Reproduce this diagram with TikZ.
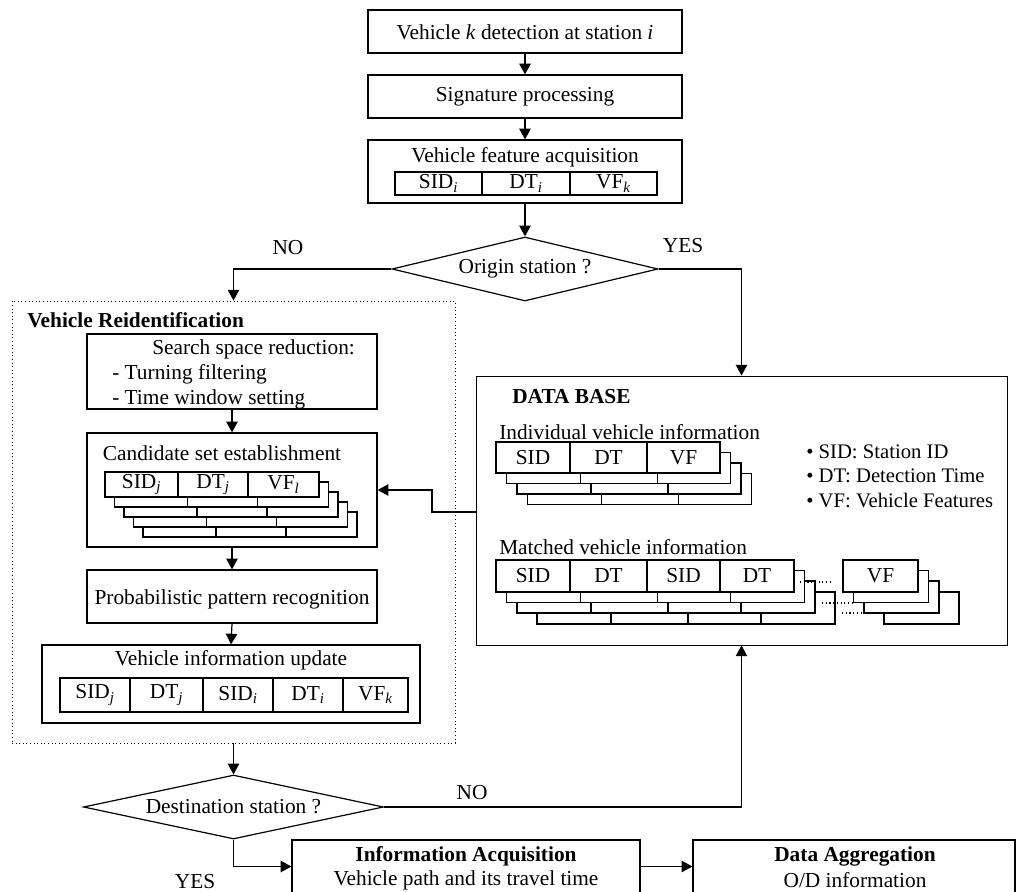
\documentclass[tikz,border=0pt]{standalone}
\usepackage{fontspec}
\setmainfont{Liberation Serif}
\usetikzlibrary{arrows.meta,shapes.geometric,fit}
\newcommand{\cellat}[6]{%
  \node[cell, minimum width={((#4)-(#2))*0.75pt}, minimum height={((#5)-(#3))*0.75pt}] (#1) at ({((#2)+(#4))/2},{((#3)+(#5))/2}) {#6};}
\newcommand{\sbi}[1]{\textsubscript{\itshape #1}}
\begin{document}
\begin{tikzpicture}[x=0.75pt,y=-0.75pt,
  box/.style={draw,line width=0.9pt,inner sep=0pt},
  cell/.style={draw,fill=white,line width=0.8pt,inner sep=0pt,font=\fontsize{16}{19}\selectfont},
  txt/.style={inner sep=0pt,font=\fontsize{16}{19}\selectfont},
  btxt/.style={inner sep=0pt,font=\fontsize{16}{19}\selectfont\bfseries},
  arr/.style={line width=0.9pt,-{Triangle[length=8pt,width=8.5pt]}},
  dia/.style={draw,diamond,aspect=4.5,line width=0.9pt,inner sep=0pt,font=\fontsize{16}{19}\selectfont},
  ln/.style={line width=0.9pt}
]
\clip (0,0) rectangle (1017,892);
\useasboundingbox (0,0) rectangle (1017,892);
\fill[white] (0,0) rectangle (1017,892);

% ---- top chain
\node[box,fit={(368,10) (682,53)}] (b1) {};
\node[txt] (t1) at (525,32) {Vehicle \textit{k} detection at station \textit{i}};
\node[box,fit={(368,75) (682,118)}] (b2) {};
\node[txt] (t2) at (525,97) {Signature processing};
\node[box,fit={(368,140) (682,203)}] (b3) {};
\node[txt] (t3) at (525,157) {Vehicle feature acquisition};
\cellat{f1}{395}{172}{482}{195}{SID\sbi{i}}
\cellat{f2}{482}{172}{570}{195}{DT\sbi{i}}
\cellat{f3}{570}{172}{657}{195}{VF\sbi{k}}
\node[dia,minimum width=199.5pt,minimum height=48pt] (d1) at (525,269) {Origin station ?};

\draw[arr] (b1.south) -- (b2.north);
\draw[arr] (b2.south) -- (b3.north);
\draw[arr] (b3.south) -- (d1.north);

% ---- vehicle reidentification
\node[draw,dotted,line width=0.7pt,inner sep=0pt,fit={(12,301) (455,743)}] (vr) {};
\node[btxt,anchor=west] (vrt) at (27,320) {Vehicle Reidentification};

\node[box,fit={(87,334) (377,409)}] (sr) {};
\node[txt,anchor=west] (sr1) at (152,349) {Search space reduction:};
\node[txt,anchor=west] (sr2) at (112,374) {- Turning filtering};
\node[txt,anchor=west] (sr3) at (112,399) {- Time window setting};

\node[box,fit={(87,433) (377,547)}] (cand) {};
\node[txt] (candt) at (222,453) {Candidate set establishment};
\foreach \k in {4,3,2,1} {
  \cellat{c\k a}{105+\k*9.5}{472+\k*10}{178+\k*9.5}{497+\k*10}{}
  \cellat{c\k b}{178+\k*9.5}{472+\k*10}{248+\k*9.5}{497+\k*10}{}
  \cellat{c\k c}{248+\k*9.5}{472+\k*10}{319+\k*9.5}{497+\k*10}{}
}
\cellat{c0a}{105}{472}{178}{497}{SID\sbi{j}}
\cellat{c0b}{178}{472}{248}{497}{DT\sbi{j}}
\cellat{c0c}{248}{472}{319}{497}{VF\sbi{l}}

\node[box,fit={(87,570) (377,623)}] (pr) {};
\node[txt] (prt) at (232,599) {Probabilistic pattern recognition};

\node[box,fit={(42,645) (420,723)}] (up) {};
\node[txt] (upt) at (231,660) {Vehicle information update};
\cellat{u1}{60}{678}{130}{712}{SID\sbi{j}}
\cellat{u2}{130}{678}{203}{712}{DT\sbi{j}}
\cellat{u3}{203}{678}{273}{712}{SID\sbi{i}}
\cellat{u4}{273}{678}{343}{712}{DT\sbi{i}}
\cellat{u5}{343}{678}{408}{712}{VF\sbi{k}}

\draw[arr] (sr.south) -- (cand.north);
\draw[arr] (cand.south) -- (pr.north);
\draw[arr] (pr.south) -- (up.north);

% ---- database
\node[draw,line width=0.6pt,inner sep=0pt,fit={(476,376) (1007,645)}] (db) {};
\node[btxt,anchor=west] (dbt) at (512,397) {DATA BASE};
\node[txt,anchor=west] (ivi) at (499,432) {Individual vehicle information};
\foreach \k in {3,2,1} {
  \cellat{i\k a}{496+\k*10.5}{442+\k*10.5}{570+\k*10.5}{473+\k*10.5}{}
  \cellat{i\k b}{570+\k*10.5}{442+\k*10.5}{647+\k*10.5}{473+\k*10.5}{}
  \cellat{i\k c}{647+\k*10.5}{442+\k*10.5}{720+\k*10.5}{473+\k*10.5}{}
}
\cellat{i0a}{496}{442}{570}{473}{SID}
\cellat{i0b}{570}{442}{647}{473}{DT}
\cellat{i0c}{647}{442}{720}{473}{VF}
\node[txt,anchor=west,font=\fontsize{15.5}{19}\selectfont] (lg1) at (806,452) {\textbullet\ SID: Station ID};
\node[txt,anchor=west,font=\fontsize{15.5}{19}\selectfont] (lg2) at (806,476) {\textbullet\ DT: Detection Time};
\node[txt,anchor=west,font=\fontsize{15.5}{19}\selectfont] (lg3) at (806,500) {\textbullet\ VF: Vehicle Features};

\node[txt,anchor=west] (mvi) at (499,547) {Matched vehicle information};
\foreach \dx/\dy/\k in {41/32/3, 21/21/2, 10.5/10.5/1} {
  \cellat{m\k a}{496+\dx}{560+\dy}{570+\dx}{592+\dy}{}
  \cellat{m\k b}{570+\dx}{560+\dy}{647+\dx}{592+\dy}{}
  \cellat{m\k c}{647+\dx}{560+\dy}{720+\dx}{592+\dy}{}
  \cellat{m\k d}{720+\dx}{560+\dy}{794+\dx}{592+\dy}{}
  \cellat{m\k e}{843+\dx}{560+\dy}{918+\dx}{592+\dy}{}
}
\cellat{m0a}{496}{560}{570}{592}{SID}
\cellat{m0b}{570}{560}{647}{592}{DT}
\cellat{m0c}{647}{560}{720}{592}{SID}
\cellat{m0d}{720}{560}{794}{592}{DT}
\cellat{m0e}{843}{560}{918}{592}{VF}
\draw[dotted,line width=0.8pt] (800,582) -- (833,582);
\draw[dotted,line width=0.8pt] (822,603) -- (852,603);
\draw[dotted,line width=0.8pt] (842,613) -- (863,613);

% ---- destination
\node[dia,minimum width=225pt,minimum height=48pt] (d2) at (233.5,807) {Destination station ?};
\node[box,fit={(292,840) (640,893)}] (info) {};
\node[btxt] (infot1) at (466,856) {Information Acquisition};
\node[txt] (infot2) at (466,880) {Vehicle path and its travel time};
\node[box,fit={(693,840) (1015,893)}] (agg) {};
\node[btxt] (aggt1) at (855,856) {Data Aggregation};
\node[txt] (aggt2) at (855,880) {O/D information};

% ---- connectors
\draw[arr] (d1.west) -| (vr.north);
\draw[arr] (d1.east) -| (db.north);
\node[txt] (no1) at (288,248) {NO};
\node[txt] (yes1) at (683,246) {YES};
\coordinate (c1) at (432,512);
\draw[arr] (db.west |- c1) -- (c1) |- (cand.east);
\draw[arr] (vr.south) -- (d2.north);
\draw[arr] (d2.east) -| (db.south);
\node[txt] (no2) at (472,793) {NO};
\draw[arr] (d2.south) |- (info.west);
\node[txt] (yes2) at (195,882) {YES};
\draw[arr] (info.east) -- (agg.west);
\end{tikzpicture}
\end{document}
